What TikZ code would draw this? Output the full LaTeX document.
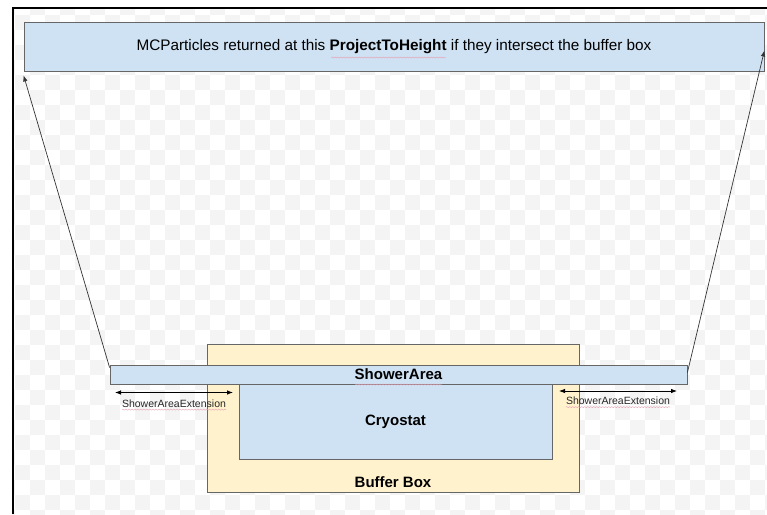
\documentclass[tikz,border=0pt]{standalone}
\usepackage{fontspec}
\setmainfont{Liberation Sans}
\usetikzlibrary{arrows.meta,positioning,calc,decorations.pathmorphing}

\definecolor{areablue}{HTML}{CFE2F3}
\definecolor{bufferyellow}{HTML}{FFF2CC}
\definecolor{edgegray}{HTML}{666666}
\definecolor{arrowgray}{HTML}{333333}
\definecolor{checkgray}{HTML}{F4F4F4}
\definecolor{spellred}{HTML}{E6A1B4}

\begin{document}
\begin{tikzpicture}[
  x=1pt, y=-1pt,
  >={Latex[length=6pt,width=4.5pt]},
  every node/.style={inner sep=0pt},
  areabox/.style={draw=edgegray, fill=areablue, line width=0.8pt},
  bufferbox/.style={draw=edgegray, fill=bufferyellow, line width=0.8pt},
  boldlabel/.style={font=\fontsize{15}{17}\selectfont\bfseries},
  extlabel/.style={font=\fontsize{10.5}{12}\selectfont, text=black!85},
  connector/.style={->, arrowgray, line width=0.7pt},
  extarrow/.style={<->, black, line width=0.8pt},
  spellline/.style={spellred, line width=0.4pt,
              decorate, decoration={snake, amplitude=0.6pt, segment length=3pt}},
]
  \useasboundingbox (0,0) rectangle (767,514);

  % transparency checkerboard behind the drawing
  \begin{scope}
    \clip (13,8) rectangle (767,514);
    \foreach \i in {0,...,26}
      \foreach \j in {0,...,17} {
        \fill[checkgray] ({30*\i},{30*\j}) rectangle ++(15,15);
        \fill[checkgray] ({30*\i+15},{30*\j+15}) rectangle ++(15,15);
      }
  \end{scope}
  \draw[line width=2pt] (12.7,514) -- (12.7,8) -- (767,8);

  \node[areabox, minimum width=740pt, minimum height=49pt,
    font=\fontsize{15.3}{17}\selectfont] (height) at (394, 46.5)
    {MCParticles returned at this \textbf{ProjectToHeight} if they intersect the buffer box};

  \node[bufferbox, minimum width=372pt, minimum height=148pt] (buffer) at (393, 418) {};
  \node[areabox, minimum width=313pt, minimum height=75pt, boldlabel] (cryo) at (395.5, 421.5) {Cryostat};
  \node[areabox, minimum width=577pt, minimum height=19pt, boldlabel] (shower) at (398.5, 374.5) {ShowerArea};
  \node[boldlabel, anchor=base] (bufferlbl) at (393, 487) {Buffer Box};

  \draw[connector] ([yshift=-3pt]shower.north west) -- ([yshift=-4pt]height.south west);
  \draw[connector] ([yshift=2pt]shower.east) -- ([yshift=-4pt]height.east);

  \coordinate (extLa) at (115, 392.5);
  \coordinate (extLb) at (233, 392.5);
  \coordinate (extRa) at (559, 391);
  \coordinate (extRb) at (677, 391);
  \draw[extarrow] (extLa) -- (extLb);
  \draw[extarrow] (extRa) -- (extRb);
  \node[extlabel, below=7pt of $(extLa)!0.5!(extLb)$] (extLlbl) {ShowerAreaExtension};
  \node[extlabel, below=6pt of $(extRa)!0.5!(extRb)$] (extRlbl) {ShowerAreaExtension};

  % spell-check underlines
  \draw[spellline] (331, 57.5) -- (446, 57.5);
  \draw[spellline] (355, 384.5) -- (442, 384.5);
  \draw[spellline] ([yshift=-2pt]extLlbl.south west) -- ([yshift=-2pt]extLlbl.south east);
  \draw[spellline] ([yshift=-2pt]extRlbl.south west) -- ([yshift=-2pt]extRlbl.south east);
\end{tikzpicture}
\end{document}
